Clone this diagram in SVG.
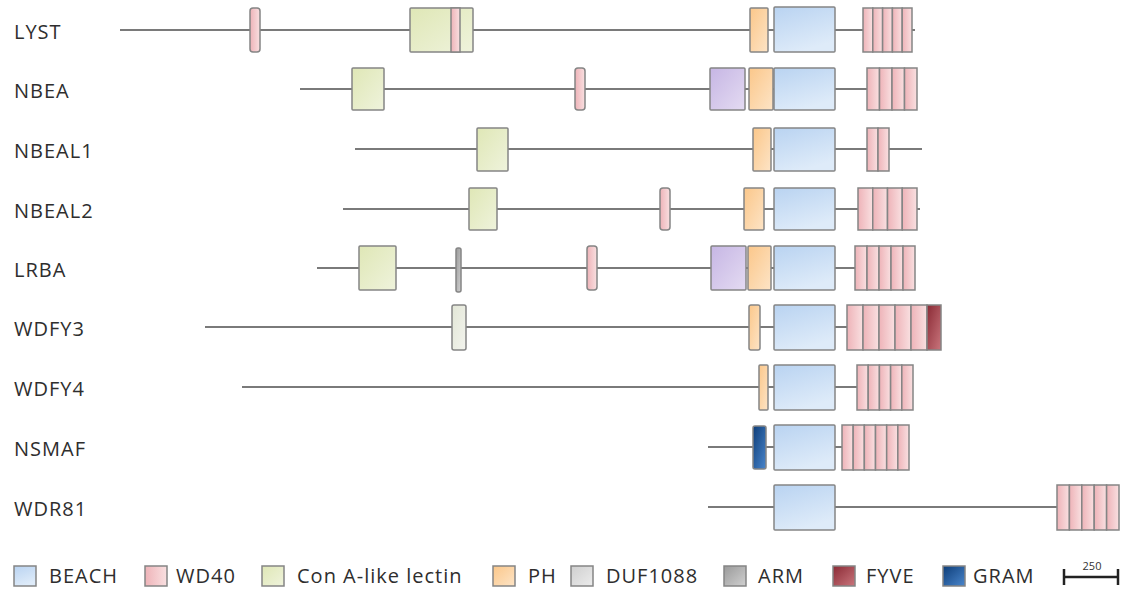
<svg xmlns="http://www.w3.org/2000/svg" width="1122" height="592" viewBox="0 0 1122 592">
<defs>
<linearGradient id="gBeach" x1="0" y1="0" x2="0.4" y2="1"><stop offset="0" stop-color="#b9d3f1"/><stop offset="1" stop-color="#deebf9"/></linearGradient>
<linearGradient id="gWd" x1="0" y1="0" x2="1" y2="0"><stop offset="0" stop-color="#eeb3b8"/><stop offset="1" stop-color="#f9e0e1"/></linearGradient>
<linearGradient id="gCon" x1="0" y1="0" x2="1" y2="1"><stop offset="0" stop-color="#dfe7b6"/><stop offset="1" stop-color="#eff3dc"/></linearGradient>
<linearGradient id="gPh" x1="0" y1="0" x2="1" y2="1"><stop offset="0" stop-color="#fbc78a"/><stop offset="1" stop-color="#fde4c6"/></linearGradient>
<linearGradient id="gDuf" x1="0" y1="0" x2="1" y2="1"><stop offset="0" stop-color="#c6b6e4"/><stop offset="1" stop-color="#e4dbf2"/></linearGradient>
<linearGradient id="gDufL" x1="0" y1="0" x2="1" y2="1"><stop offset="0" stop-color="#cfcfcf"/><stop offset="1" stop-color="#ececec"/></linearGradient>
<linearGradient id="gArm" x1="0" y1="0" x2="1" y2="1"><stop offset="0" stop-color="#9a9a9a"/><stop offset="1" stop-color="#d0d0d0"/></linearGradient>
<linearGradient id="gFyve" x1="0" y1="0" x2="1" y2="1"><stop offset="0" stop-color="#8a2a35"/><stop offset="1" stop-color="#c9757c"/></linearGradient>
<linearGradient id="gGram" x1="0" y1="0" x2="1" y2="1"><stop offset="0" stop-color="#0d3d78"/><stop offset="1" stop-color="#4a86cc"/></linearGradient>
<linearGradient id="gW3" x1="0" y1="0" x2="1" y2="1"><stop offset="0" stop-color="#e2e6d6"/><stop offset="1" stop-color="#f3f4ee"/></linearGradient>
</defs>
<style>
.lbl{font-family:"Open Sans","Liberation Sans",sans-serif;font-size:20px;letter-spacing:1px;fill:#2e2e2e}
.leg{font-family:"Open Sans","Liberation Sans",sans-serif;font-size:20px;letter-spacing:1px;fill:#2e2e2e}
.bb{stroke:#7a7a7a;stroke-width:2;fill:none}
.d{stroke:#858585;stroke-width:1.5}
.beach{fill:url(#gBeach)}
.wd{fill:url(#gWd)}
.con{fill:url(#gCon)}
.ph{fill:url(#gPh)}
.duf{fill:url(#gDuf)}
.arm{fill:url(#gArm)}
.fyve{fill:url(#gFyve)}
.gram{fill:url(#gGram)}
</style>
<rect width="1122" height="592" fill="#ffffff"/>
<g id="connectors">
<line class="bb" x1="120" y1="30" x2="915" y2="30"/>
<line class="bb" x1="300" y1="89" x2="867" y2="89"/>
<line class="bb" x1="355" y1="149" x2="922" y2="149"/>
<line class="bb" x1="343" y1="209" x2="920" y2="209"/>
<line class="bb" x1="317" y1="268" x2="855" y2="268"/>
<line class="bb" x1="205" y1="327" x2="847" y2="327"/>
<line class="bb" x1="242" y1="387" x2="857" y2="387"/>
<line class="bb" x1="708" y1="447" x2="842" y2="447"/>
<line class="bb" x1="708" y1="507" x2="1057" y2="507"/>
</g>
<g id="LYST">
<text class="lbl" x="14" y="39">LYST</text>
<rect class="d wd" x="250" y="8" width="10" height="44" rx="3"/>
<rect class="d con" x="410" y="8" width="63" height="44" rx="1"/>
<rect class="d wd" x="451" y="8" width="9" height="44"/>
<rect class="d ph" x="750" y="8" width="18" height="44" rx="1"/>
<rect class="d beach" x="774" y="7" width="61" height="45" rx="1"/>
<rect class="d wd" x="863" y="8" width="9.8" height="44"/><rect class="d wd" x="872.8" y="8" width="9.8" height="44"/><rect class="d wd" x="882.6" y="8" width="9.8" height="44"/><rect class="d wd" x="892.4" y="8" width="9.8" height="44"/><rect class="d wd" x="902.2" y="8" width="9.8" height="44"/>
</g>
<g id="NBEA">
<text class="lbl" x="14" y="98">NBEA</text>
<rect class="d con" x="352" y="68" width="32" height="42" rx="1"/>
<rect class="d wd" x="575" y="68" width="10" height="42" rx="3"/>
<rect class="d duf" x="710" y="68" width="35" height="42" rx="1"/>
<rect class="d ph" x="749" y="68" width="24" height="42" rx="1"/>
<rect class="d beach" x="774" y="68" width="61" height="42" rx="1"/>
<rect class="d wd" x="867" y="68" width="12.5" height="42"/><rect class="d wd" x="879.5" y="68" width="12.5" height="42"/><rect class="d wd" x="892" y="68" width="12.5" height="42"/><rect class="d wd" x="904.5" y="68" width="12.5" height="42"/>
</g>
<g id="NBEAL1">
<text class="lbl" x="14" y="158">NBEAL1</text>
<rect class="d con" x="477" y="128" width="31" height="43" rx="1"/>
<rect class="d ph" x="753" y="128" width="18" height="43" rx="1"/>
<rect class="d beach" x="774" y="128" width="61" height="43" rx="1"/>
<rect class="d wd" x="867" y="128" width="11" height="43"/><rect class="d wd" x="878" y="128" width="11" height="43"/>
</g>
<g id="NBEAL2">
<text class="lbl" x="14" y="218">NBEAL2</text>
<rect class="d con" x="469" y="188" width="28" height="42" rx="1"/>
<rect class="d wd" x="660" y="188" width="10" height="42" rx="3"/>
<rect class="d ph" x="744" y="188" width="20" height="42" rx="1"/>
<rect class="d beach" x="774" y="188" width="61" height="42" rx="1"/>
<rect class="d wd" x="858" y="188" width="14.75" height="42"/><rect class="d wd" x="872.75" y="188" width="14.75" height="42"/><rect class="d wd" x="887.5" y="188" width="14.75" height="42"/><rect class="d wd" x="902.25" y="188" width="14.75" height="42"/>
</g>
<g id="LRBA">
<text class="lbl" x="14" y="277">LRBA</text>
<rect class="d con" x="359" y="246" width="37" height="44" rx="1"/>
<rect class="d arm" x="456" y="248" width="5" height="44" rx="2"/>
<rect class="d wd" x="587" y="246" width="10" height="44" rx="3"/>
<rect class="d duf" x="711" y="246" width="35" height="44" rx="1"/>
<rect class="d ph" x="748" y="246" width="23" height="44" rx="1"/>
<rect class="d beach" x="774" y="246" width="61" height="44" rx="1"/>
<rect class="d wd" x="855" y="246" width="12" height="44"/><rect class="d wd" x="867" y="246" width="12" height="44"/><rect class="d wd" x="879" y="246" width="12" height="44"/><rect class="d wd" x="891" y="246" width="12" height="44"/><rect class="d wd" x="903" y="246" width="12" height="44"/>
</g>
<g id="WDFY3">
<text class="lbl" x="14" y="336">WDFY3</text>
<rect class="d" fill="url(#gW3)" x="452" y="305" width="14" height="45" rx="2"/>
<rect class="d ph" x="749" y="305" width="11" height="45" rx="2"/>
<rect class="d beach" x="774" y="305" width="61" height="45" rx="1"/>
<rect class="d wd" x="847" y="305" width="16" height="45"/><rect class="d wd" x="863" y="305" width="16" height="45"/><rect class="d wd" x="879" y="305" width="16" height="45"/><rect class="d wd" x="895" y="305" width="16" height="45"/><rect class="d wd" x="911" y="305" width="16" height="45"/>
<rect class="d" fill="url(#gFyve)" x="927" y="305" width="14" height="45"/>
</g>
<g id="WDFY4">
<text class="lbl" x="14" y="396">WDFY4</text>
<rect class="d ph" x="759" y="365" width="9" height="45" rx="1"/>
<rect class="d beach" x="774" y="365" width="61" height="45" rx="1"/>
<rect class="d wd" x="857" y="365" width="11.2" height="45"/><rect class="d wd" x="868.2" y="365" width="11.2" height="45"/><rect class="d wd" x="879.4" y="365" width="11.2" height="45"/><rect class="d wd" x="890.6" y="365" width="11.2" height="45"/><rect class="d wd" x="901.8" y="365" width="11.2" height="45"/>
</g>
<g id="NSMAF">
<text class="lbl" x="14" y="456">NSMAF</text>
<rect class="d gram" x="753" y="426" width="13" height="43" rx="2"/>
<rect class="d beach" x="774" y="425" width="61" height="45" rx="1"/>
<rect class="d wd" x="842" y="425" width="11.17" height="45"/><rect class="d wd" x="853.17" y="425" width="11.17" height="45"/><rect class="d wd" x="864.33" y="425" width="11.17" height="45"/><rect class="d wd" x="875.5" y="425" width="11.17" height="45"/><rect class="d wd" x="886.67" y="425" width="11.17" height="45"/><rect class="d wd" x="897.83" y="425" width="11.17" height="45"/>
</g>
<g id="WDR81">
<text class="lbl" x="14" y="516">WDR81</text>
<rect class="d beach" x="774" y="485" width="61" height="45" rx="1"/>
<rect class="d wd" x="1057" y="485" width="12.4" height="45"/><rect class="d wd" x="1069.4" y="485" width="12.4" height="45"/><rect class="d wd" x="1081.8" y="485" width="12.4" height="45"/><rect class="d wd" x="1094.2" y="485" width="12.4" height="45"/><rect class="d wd" x="1106.6" y="485" width="12.4" height="45"/>
</g>
<g id="legend">
<rect class="d beach" x="14" y="566" width="22" height="20"/><text class="leg" x="49" y="583">BEACH</text>
<rect class="d wd" x="145" y="566" width="22" height="20"/><text class="leg" x="176" y="583">WD40</text>
<rect class="d con" x="262" y="566" width="22" height="20"/><text class="leg" x="297" y="583">Con A-like lectin</text>
<rect class="d ph" x="493" y="566" width="22" height="20"/><text class="leg" x="528" y="583">PH</text>
<rect class="d" fill="url(#gDufL)" x="571" y="566" width="22" height="20"/><text class="leg" x="606" y="583">DUF1088</text>
<rect class="d arm" x="724" y="566" width="22" height="20"/><text class="leg" x="758" y="583">ARM</text>
<rect class="d fyve" x="833" y="566" width="22" height="20"/><text class="leg" x="866" y="583">FYVE</text>
<rect class="d gram" x="943" y="566" width="22" height="20"/><text class="leg" x="973" y="583">GRAM</text>
<g id="scalebar" stroke="#222" stroke-width="2.5">
<line x1="1064" y1="577" x2="1118" y2="577"/>
<line x1="1064" y1="569" x2="1064" y2="585"/>
<line x1="1118" y1="569" x2="1118" y2="585"/>
</g>
<text x="1092" y="570" text-anchor="middle" style="font-family:'Open Sans','Liberation Sans',sans-serif;font-size:11px;fill:#333">250</text>
</g>
</svg>
